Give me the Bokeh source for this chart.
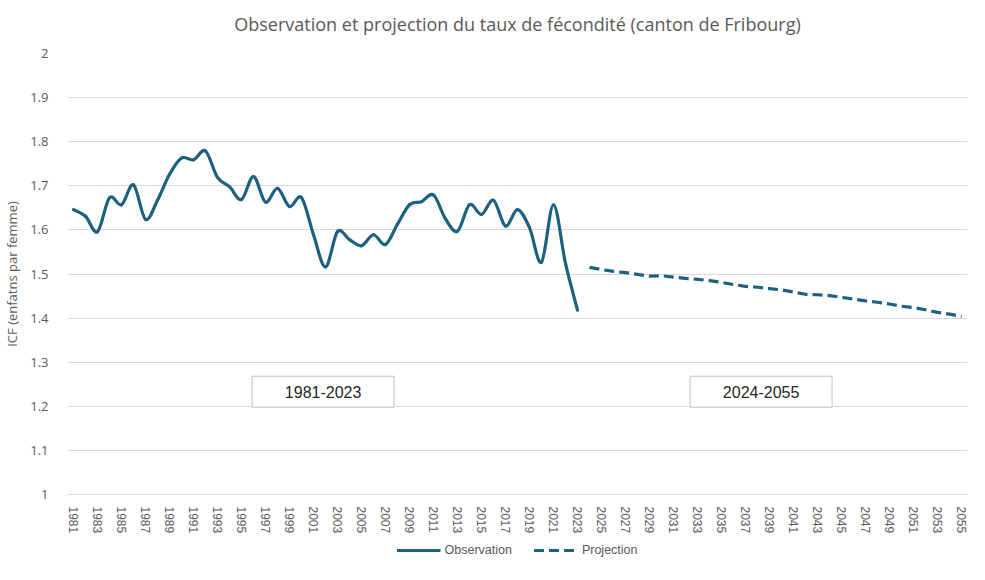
from bokeh.plotting import figure
from bokeh.layouts import column
from bokeh.models import (Range1d, FixedTicker, NumeralTickFormatter, Legend, LegendItem,
                          ColumnDataSource, Title)
from bokeh.core.properties import value
from bokeh.embed import file_html
from bokeh.resources import INLINE

# ---- data ----
obs_years = list(range(1981, 2024))
obs_values = [1.646, 1.631, 1.596, 1.673, 1.657, 1.702, 1.624, 1.667, 1.726, 1.763,
              1.759, 1.779, 1.719, 1.698, 1.669, 1.721, 1.663, 1.694, 1.653, 1.673,
              1.589, 1.516, 1.596, 1.578, 1.564, 1.589, 1.567, 1.613, 1.657, 1.664,
              1.679, 1.625, 1.597, 1.657, 1.635, 1.667, 1.609, 1.646, 1.605, 1.527,
              1.657, 1.524, 1.418]
proj_years = list(range(2024, 2056))
proj_values = [1.515, 1.510, 1.506, 1.503, 1.499, 1.495, 1.496, 1.493, 1.490, 1.488,
               1.485, 1.481, 1.476, 1.472, 1.470, 1.467, 1.464, 1.459, 1.454, 1.453,
               1.451, 1.447, 1.443, 1.439, 1.436, 1.432, 1.427, 1.424, 1.419, 1.413,
               1.409, 1.404]
x_ticks = list(range(1981, 2056, 2))
y_ticks = [1.0, 1.1, 1.2, 1.3, 1.4, 1.5, 1.6, 1.7, 1.8, 1.9, 2.0]
period_labels = ["1981-2023", "2024-2055"]
series_names = ["Observation", "Projection"]

COLOR = "#1d6180"
GRAY = "#595959"

p = figure(width=969, height=536, output_backend="svg", toolbar_location=None,
           x_range=Range1d(1980.5, 2055.5), y_range=Range1d(1.0, 2.0),
           min_border_left=62, min_border_right=2, min_border_top=53,
           min_border_bottom=38)
p.outline_line_color = None
p.background_fill_color = "white"
p.border_fill_color = "white"

# spacer between title and plot area (closest to the frame)
p.add_layout(Title(text=" ", text_font_size="12px", standoff=0), "above")
p.title.text = "Observation et projection du taux de fécondité (canton de Fribourg)"
p.title.align = "center"
p.title.text_font = "Open Sans"
p.title.text_font_size = "18px"
p.title.text_font_style = "normal"
p.title.text_color = GRAY
p.title.standoff = 4

# smooth observation curve (Excel-style smoothing) via bezier segments
n = len(obs_years)
x0, y0, x1, y1, cx0, cy0, cx1, cy1 = [], [], [], [], [], [], [], []
for i in range(n - 1):
    a = max(i - 1, 0)
    b = min(i + 2, n - 1)
    x0.append(obs_years[i]); y0.append(obs_values[i])
    x1.append(obs_years[i + 1]); y1.append(obs_values[i + 1])
    cx0.append(obs_years[i] + (obs_years[i + 1] - obs_years[a]) / 6)
    cy0.append(obs_values[i] + (obs_values[i + 1] - obs_values[a]) / 6)
    cx1.append(obs_years[i + 1] - (obs_years[b] - obs_years[i]) / 6)
    cy1.append(obs_values[i + 1] - (obs_values[b] - obs_values[i]) / 6)
bsrc = ColumnDataSource(dict(x0=x0, y0=y0, x1=x1, y1=y1, cx0=cx0, cy0=cy0, cx1=cx1, cy1=cy1))
p.bezier(x0="x0", y0="y0", x1="x1", y1="y1", cx0="cx0", cy0="cy0", cx1="cx1", cy1="cy1",
         source=bsrc, line_color=COLOR, line_width=3.2, line_cap="round")

p.line(proj_years, proj_values, line_color=COLOR, line_width=3.2, line_dash="10 5")

# period boxes
box_x = [2001.8, 2038.3]
box_y = [1.233, 1.233]
p.rect(x=box_x, y=box_y, width=142, height=31, width_units="screen", height_units="screen",
       fill_color="white", line_color="#bfbfbf", line_width=1)
p.text(x=box_x, y=box_y, text=period_labels, text_align="center", text_baseline="middle",
       text_font=value("Liberation Sans"), text_font_size="16px", text_color="#262626")

# axes
p.xaxis.ticker = FixedTicker(ticks=x_ticks)
p.xaxis.major_label_orientation = "vertical"
p.xaxis.major_label_text_font = "Liberation Sans"
p.xaxis.major_label_text_font_size = "12px"
p.xaxis.major_label_text_color = GRAY
p.xaxis.major_tick_line_color = None
p.xaxis.minor_tick_line_color = None
p.xaxis.axis_line_color = "#d9d9d9"
p.xaxis.major_label_standoff = 6

p.yaxis.ticker = FixedTicker(ticks=y_ticks)
p.yaxis.formatter = NumeralTickFormatter(format="0.[0]")
p.yaxis.major_label_text_font = "Open Sans"
p.yaxis.major_label_text_font_size = "13px"
p.yaxis.major_label_text_color = GRAY
p.yaxis.major_tick_line_color = None
p.yaxis.minor_tick_line_color = None
p.yaxis.axis_line_color = None
p.yaxis.major_label_standoff = 13
p.yaxis.axis_label = "ICF (enfatns par femme)"
p.yaxis.axis_label_text_font = "Open Sans"
p.yaxis.axis_label_text_font_size = "13px"
p.yaxis.axis_label_text_font_style = "normal"
p.yaxis.axis_label_text_color = GRAY
p.yaxis.axis_label_standoff = 6

p.xgrid.grid_line_color = None
p.ygrid.grid_line_color = "#d9d9d9"
p.ygrid.grid_line_width = 1

# legend strip below the chart (series drawn out of view, only their legend samples show)
leg = figure(width=969, height=28, output_backend="svg", toolbar_location=None,
             x_range=Range1d(0, 1), y_range=Range1d(0, 1),
             min_border_left=0, min_border_right=0, min_border_top=0, min_border_bottom=0)
leg.outline_line_color = None
leg.axis.visible = False
leg.grid.visible = False
leg.border_fill_color = "white"
r_obs = leg.line(obs_years, obs_values, line_color=COLOR, line_width=3.2)
r_proj = leg.line(proj_years, proj_values, line_color=COLOR, line_width=3.2, line_dash="10 5")
legend = Legend(items=[LegendItem(label=series_names[0], renderers=[r_obs]),
                       LegendItem(label=series_names[1], renderers=[r_proj])],
                orientation="horizontal", location="center",
                border_line_color=None, background_fill_alpha=0,
                label_text_font="Liberation Sans", label_text_font_size="12.5px",
                label_text_color=GRAY, glyph_width=44, label_standoff=4, spacing=22,
                padding=2, margin=0)
leg.add_layout(legend, "center")

layout = column(p, leg, spacing=0)
open("out.html", "w").write(file_html(layout, INLINE))
